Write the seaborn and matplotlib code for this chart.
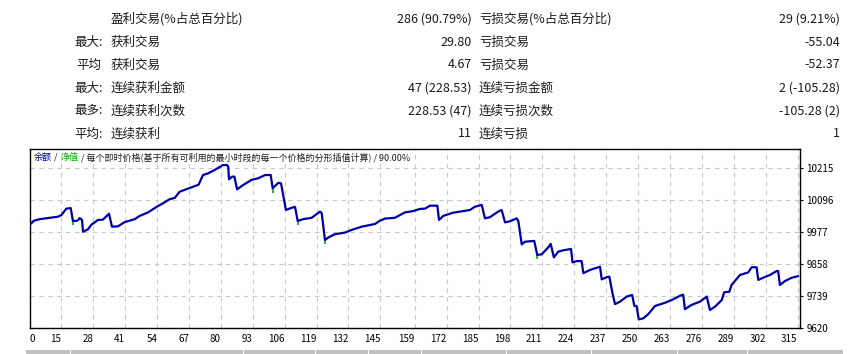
import matplotlib
matplotlib.use("Agg")
import matplotlib.pyplot as plt
from matplotlib.patches import Rectangle
import seaborn as sns
import pandas as pd

# saldo por operacion
trades = [2.0, 3.8, 6.2, 9.5, 13.6, 15.0, 17.0, 18.8, 19.7, 21.5, 22.5, 23.4, 23.8, 25.8, 27.2,
          29.9, 31.9, 34.4, 35.6, 38.0, 40.8, 44.9, 46.9, 50.3, 53.7, 56.4, 59.1, 61.2, 63.2,
          65.9, 67.9, 70.9, 72.7, 74.7, 77.5, 80.8, 82.5, 83.0, 83.3, 84.6, 85.5, 86.6, 89.1,
          92.5, 95.2, 98.0, 100.3, 101.1, 103.4, 104.5, 106.1, 106.5, 108.2, 110.2, 111.3,
          113.6, 117.0, 120.4, 121.1, 122.4, 123.8, 126.5, 130.6, 133.3, 137.4, 142.8, 144.8,
          146.9, 150.9, 155.0, 158.4, 161.1, 163.2, 165.2, 168.2, 168.9, 170.6, 174.7, 178.8,
          181.5, 183.5, 186.3, 187.6, 189.6, 193.0, 194.4, 195.8, 197.8, 200.5, 201.2, 202.6,
          203.9, 207.7, 208.9, 210.7, 213.4, 214.4, 215.7, 217.5, 219.5, 222.7, 223.3, 225.0,
          227.0, 227.7, 230.4, 234.5, 235.2, 237.2, 238.3, 239.6, 240.6, 242.6, 245.4, 247.6,
          248.5, 249.4, 250.3, 252.1, 254.2, 256.9, 261.0, 263.7, 267.1, 268.4, 269.1, 271.8,
          275.2, 278.0, 279.3, 281.3, 284.1, 285.1, 287.2, 288.1, 291.5, 294.9, 296.3, 298.3,
          299.0, 301.0, 303.7, 306.5, 307.1, 307.8, 309.9, 312.6, 315.3]
saldo = [10004, 10020, 10026, 10030, 10035, 10041, 10065, 10067, 10019, 10020, 10030, 10023,
         9979, 9988, 10005, 10023, 10024, 10046, 9998, 9999, 10015, 10026, 10038, 10051, 10071,
         10085, 10100, 10105, 10128, 10137, 10144, 10154, 10190, 10196, 10209, 10227, 10227,
         10221, 10174, 10184, 10184, 10137, 10153, 10172, 10178, 10190, 10190, 10141, 10161,
         10159, 10079, 10060, 10066, 10072, 10019, 10026, 10031, 10054, 10048, 9948, 9958, 9970,
         9976, 9986, 9998, 10008, 10020, 10028, 10031, 10051, 10056, 10064, 10065, 10076, 10076,
         10023, 10038, 10050, 10056, 10060, 10072, 10079, 10029, 10033, 10054, 10060, 10014,
         10018, 10029, 10019, 9932, 9942, 9945, 9893, 9895, 9921, 9934, 9884, 9905, 9910, 9915,
         9865, 9870, 9870, 9825, 9837, 9849, 9802, 9810, 9812, 9750, 9710, 9719, 9738, 9744,
         9703, 9703, 9653, 9657, 9673, 9703, 9715, 9725, 9741, 9745, 9691, 9707, 9719, 9738,
         9688, 9700, 9725, 9754, 9756, 9781, 9818, 9828, 9847, 9847, 9800, 9808, 9818, 9833,
         9833, 9781, 9796, 9808, 9814]

# minimos de equidad (marcas verdes)
equ_t = [19.9, 101.4, 111.5, 122.6, 209.0]
equ_v = [10014, 10136, 10015, 9944, 9889]

xtick_pos = [2.08, 15, 28, 41, 54, 67, 80, 93, 106, 119, 132, 145, 159, 172, 185, 198, 211,
             224, 237, 250, 263, 276, 289, 302, 315]
xtick_lab = ["0", "15", "28", "41", "54", "67", "80", "93", "106", "119", "132", "145", "159",
             "172", "185", "198", "211", "224", "237", "250", "263", "276", "289", "302", "315"]
ytick_pos = [9620, 9739, 9858, 9977, 10096, 10215]

# tabla de arriba
filas_y = [19, 42.3, 65, 88.3, 110.7, 134]
col1 = ["", "最大:", "平均", "最大:", "最多:", "平均:"]
col2 = ["盈利交易(%占总百分比)", "获利交易", "获利交易", "连续获利金额", "连续获利次数", "连续获利"]
val2 = ["286 (90.79%)", "29.80", "4.67", "47 (228.53)", "228.53 (47)", "11"]
col3 = ["亏损交易(%占总百分比)", "亏损交易", "亏损交易", "连续亏损金额", "连续亏损次数", "连续亏损"]
val3 = ["29 (9.21%)", "-55.04", "-52.37", "2 (-105.28)", "-105.28 (2)", "1"]

sns.set_style("white")
fuente = ["Noto Sans CJK SC", "DejaVu Sans"]
plt.rcParams["font.family"] = fuente

W, H = 853, 354
fig = plt.figure(figsize=(W / 100, H / 100), dpi=100)
fig.patch.set_facecolor("white")

for i, y in enumerate(filas_y):
    yy = 1 - y / H
    if col1[i]:
        fig.text((103 if ":" in col1[i] else 101) / W, yy, col1[i], ha="right", va="center",
                 fontsize=9, color="#1a1a1a")
    fig.text(111 / W, yy, col2[i], ha="left", va="center", fontsize=9, color="#1a1a1a")
    fig.text(472 / W, yy, val2[i], ha="right", va="center", fontsize=9, color="#1a1a1a")
    fig.text(479 / W, yy, col3[i], ha="left", va="center", fontsize=9, color="#1a1a1a")
    fig.text(840 / W, yy, val3[i], ha="right", va="center", fontsize=9, color="#1a1a1a")

x0, x1, yt, yb = 29.7, 800, 149.3, 328.3
ax = fig.add_axes([x0 / W, 1 - yb / H, (x1 - x0) / W, (yb - yt) / H])

df = pd.DataFrame({"operacion": trades, "saldo": saldo})
df_eq = pd.DataFrame({"operacion": equ_t, "equidad": equ_v})
sns.scatterplot(data=df_eq, x="operacion", y="equidad", ax=ax, marker="|", s=25,
                color="#00b000", linewidth=1.2, zorder=2)
sns.lineplot(data=df, x="operacion", y="saldo", ax=ax, color="#0000a8", linewidth=1.6,
             sort=False, zorder=3)

ax.set_xlim(2.08, 316.0)
ax.set_ylim(9620, 10285.7)
ax.set_xlabel("")
ax.set_ylabel("")
ax.set_xticks(xtick_pos)
ax.set_xticklabels(xtick_lab)
ax.set_yticks(ytick_pos)
ax.set_yticklabels([str(v) for v in ytick_pos])
ax.yaxis.tick_right()
ax.tick_params(axis="both", labelsize=7, colors="black", length=2.5, width=0.8, direction="out")
ax.tick_params(axis="x", pad=1.5)
ax.tick_params(axis="y", pad=2)
for k, lab in enumerate(ax.get_xticklabels()):
    lab.set_ha("left" if k == 0 else "right")
for s in ax.spines.values():
    s.set_color("black")
    s.set_linewidth(1.0)
ax.grid(True, color="#c8c8c8", linestyle=(0, (4, 4)), linewidth=0.8)
ax.xaxis.get_gridlines()[0].set_visible(False)

# leyenda del grafico
ly = 1 - 157.3 / H
fig.text(33.3 / W, ly, "余额", fontsize=6.5, color="#0000a8", va="center", ha="left")
fig.text(53.5 / W, ly, "/", fontsize=6.5, color="#202020", va="center", ha="left")
fig.text(61 / W, ly, "净值", fontsize=6.5, color="#00b000", va="center", ha="left")
fig.text(81 / W, ly, "/ 每个即时价格(基于所有可利用的最小时段的每一个价格的分形插值计算) / 90.00%",
         fontsize=6.5, color="#202020", va="center", ha="left")

# barra gris inferior
barras = [(26, 70), (71, 242.7), (244, 315), (316, 368), (369, 420.7), (422, 506),
          (507.3, 590.7), (592, 676.7), (678.3, 746.7), (748.3, 843.3)]
for a, b in barras:
    fig.add_artist(Rectangle((a / W, 0), (b - a) / W, 4 / H, transform=fig.transFigure,
                             facecolor="#c0c0c0", edgecolor="none"))

fig.savefig("out.png", dpi=100)
